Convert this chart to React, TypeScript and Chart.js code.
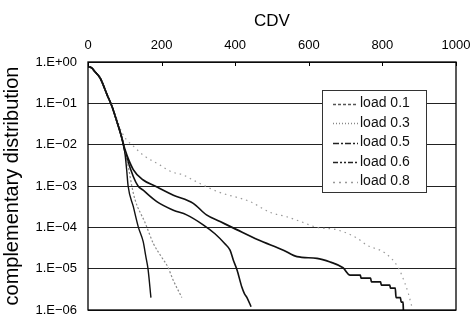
import React, { useEffect, useRef } from 'react';
import { Chart, registerables } from 'chart.js';

Chart.register(...registerables);

const FONT = '"Liberation Sans", Arial, Helvetica, sans-serif';

const seriesLabels = ['load 0.1', 'load 0.3', 'load 0.5', 'load 0.6', 'load 0.8'];

const load01X = [0, 10, 19, 33, 52, 65, 79, 92, 100, 105, 109, 123, 137, 150, 157, 163, 171];
const load01Y = [0.78, 0.72, 0.58, 0.41, 0.16, 0.085, 0.035, 0.0145, 0.0066, 0.0025, 0.001, 0.00032, 0.0001, 0.000045, 0.00002, 0.00001, 0.000002];

const load03X = [0, 10, 19, 33, 52, 65, 79, 92, 100, 111, 119, 128, 155, 178, 200, 217, 231, 255];
const load03Y = [0.78, 0.72, 0.58, 0.41, 0.16, 0.085, 0.035, 0.0145, 0.0068, 0.0025, 0.001, 0.00046, 0.00013, 0.00004, 0.000019, 0.000011, 0.0000054, 0.000002];

const load05X = [0, 10, 19, 33, 52, 65, 79, 92, 100, 123, 136, 150, 187, 232, 268, 313, 345, 372, 386, 395, 405, 418, 425, 432, 443];
const load05Y = [0.78, 0.72, 0.58, 0.41, 0.16, 0.085, 0.035, 0.0145, 0.007, 0.0017, 0.001, 0.00079, 0.00042, 0.00026, 0.0002, 0.000115, 0.00007, 0.00004, 0.000028, 0.000016, 0.0000093, 0.0000036, 0.0000025, 0.000002, 0.0000012];

const load06X = [0, 10, 19, 33, 52, 65, 79, 92, 100, 123, 150, 182, 232, 286, 322, 359, 404, 462, 531, 568, 622, 658, 693, 712, 740, 742, 768, 770, 795, 797, 820, 822, 835, 837, 849, 851, 856, 857];
const load06Y = [0.78, 0.72, 0.58, 0.41, 0.16, 0.085, 0.035, 0.0145, 0.0078, 0.0025, 0.0014, 0.001, 0.0006, 0.00038, 0.0002, 0.000138, 0.000088, 0.00005, 0.000028, 0.0000195, 0.0000178, 0.0000145, 0.0000105, 0.000007, 0.000007, 0.0000059, 0.0000059, 0.0000048, 0.0000048, 0.000004, 0.000004, 0.0000034, 0.0000034, 0.000002, 0.000002, 0.00000155, 0.00000155, 0.000001];

const load08X = [0, 10, 19, 33, 52, 65, 79, 92, 105, 119, 150, 196, 227, 255, 295, 354, 440, 495, 540, 576, 622, 677, 731, 758, 807, 842, 861, 870, 880];
const load08Y = [0.78, 0.72, 0.58, 0.41, 0.16, 0.085, 0.04, 0.02, 0.013, 0.01, 0.0056, 0.0032, 0.0022, 0.0019, 0.00126, 0.00072, 0.00042, 0.00023, 0.00018, 0.00014, 0.0001, 0.000087, 0.000055, 0.000037, 0.000024, 0.000011, 0.0000045, 0.0000026, 0.0000012];

const xTickValues = [0, 200, 400, 600, 800, 1000];
const yTickValues = [1, 1e-1, 1e-2, 1e-3, 1e-4, 1e-5, 1e-6];
const yTickLabels = ['1.E+00', '1.E\u221201', '1.E\u221202', '1.E\u221203', '1.E\u221204', '1.E\u221205', '1.E\u221206'];

const seriesX = [load01X, load03X, load05X, load06X, load08X];
const seriesY = [load01Y, load03Y, load05Y, load06Y, load08Y];

const lineColors = ['#111111', '#8a8a8a', '#111111', '#111111', '#9a9a9a'];
const lineWidths = [1.4, 1.2, 1.6, 1.7, 1.2];
const lineDashes: number[][] = [[], [2, 2], [], [], [1.5, 4]];
const legendColors = ['#555555', '#888888', '#222222', '#222222', '#999999'];
const legendDashes: number[][] = [[3, 2], [1, 2], [6, 2, 2, 2], [5, 2, 2, 2, 2, 2], [2, 4]];

const framePlugin = {
  id: 'frameAndLegend',
  afterDraw(chart: any) {
    const { ctx, chartArea: a, scales } = chart;
    ctx.save();
    ctx.setLineDash([]);
    ctx.strokeStyle = '#000';
    ctx.lineWidth = 1.3;
    ctx.strokeRect(a.left, a.top, a.right - a.left, a.bottom - a.top);
    const xs = scales.x;
    ctx.lineWidth = 1;
    xTickValues.forEach((v) => {
      const px = Math.round(xs.getPixelForValue(v)) + 0.5;
      ctx.beginPath();
      ctx.moveTo(px, a.top);
      ctx.lineTo(px, a.top + 4);
      ctx.stroke();
    });
    // legend box
    const L = 322, T = 90, R = 426, B = 192;
    ctx.fillStyle = '#ffffff';
    ctx.fillRect(L, T, R - L, B - T);
    ctx.strokeStyle = '#333';
    ctx.lineWidth = 1;
    ctx.strokeRect(L + 0.5, T + 0.5, R - L, B - T);
    ctx.font = '14px ' + FONT;
    ctx.textBaseline = 'middle';
    ctx.textAlign = 'left';
    seriesLabels.forEach((lab, i) => {
      const y = 103.5 + i * 19.5;
      ctx.beginPath();
      ctx.setLineDash(legendDashes[i]);
      ctx.strokeStyle = legendColors[i];
      ctx.lineWidth = 1.3;
      ctx.moveTo(333, Math.round(y) + 0.5);
      ctx.lineTo(358, Math.round(y) + 0.5);
      ctx.stroke();
      ctx.setLineDash([]);
      ctx.fillStyle = '#111';
      ctx.fillText(lab, 360, y);
    });
    ctx.restore();
  },
};

export default function App() {
  const canvasRef = useRef<HTMLCanvasElement | null>(null);

  useEffect(() => {
    document.body.style.margin = '0';
    const canvas = canvasRef.current;
    if (!canvas) return;
    Chart.defaults.font.family = FONT;
    Chart.defaults.color = '#000';

    const datasets = seriesLabels.map((label, i) => ({
      label,
      data: seriesX[i].map((x, j) => ({ x, y: seriesY[i][j] })),
      borderColor: lineColors[i],
      borderWidth: lineWidths[i],
      borderDash: lineDashes[i],
      pointRadius: 0,
      fill: false,
      cubicInterpolationMode: 'monotone' as const,
    }));

    const chart = new Chart(canvas, {
      type: 'line',
      data: { datasets },
      options: {
        animation: false,
        responsive: false,
        devicePixelRatio: 1,
        layout: { padding: { left: 0, right: 16, top: 0, bottom: 5 } },
        plugins: {
          legend: { display: false },
          tooltip: { enabled: false },
        },
        scales: {
          x: {
            type: 'linear',
            position: 'top',
            min: 0,
            max: 1000,
            afterBuildTicks: (scale: any) => {
              scale.ticks = xTickValues.map((v) => ({ value: v }));
            },
            afterFit: (scale: any) => {
              scale.height = 62;
              scale.paddingLeft = 0;
              scale.paddingRight = 0;
            },
            grid: { display: false, drawTicks: false },
            border: { display: false },
            ticks: {
              font: { size: 13 },
              color: '#000',
              padding: 9,
              maxRotation: 0,
              callback: (v: any) => String(v),
            },
            title: {
              display: true,
              text: 'CDV',
              font: { size: 17 },
              color: '#000',
              padding: { top: 11, bottom: 0 },
            },
          },
          y: {
            type: 'logarithmic',
            min: 1e-6,
            max: 1,
            afterBuildTicks: (scale: any) => {
              scale.ticks = yTickValues.map((v) => ({ value: v }));
            },
            afterFit: (scale: any) => {
              scale.width = 88;
              scale.paddingTop = 0;
              scale.paddingBottom = 0;
            },
            grid: { display: true, drawTicks: false, color: '#222', lineWidth: 1 },
            border: { display: false },
            ticks: {
              font: { size: 13 },
              color: '#000',
              padding: 11,
              autoSkip: false,
              callback: (v: any) => {
                const idx = yTickValues.findIndex((t) => Math.abs(Math.log10(t) - Math.log10(v)) < 1e-6);
                return idx >= 0 ? yTickLabels[idx] : '';
              },
            },
            title: {
              display: true,
              text: 'complementary distribution',
              font: { size: 20 },
              color: '#000',
              padding: { top: 0, bottom: 0 },
            },
          },
        },
      },
      plugins: [framePlugin],
    });

    return () => chart.destroy();
  }, []);

  return (
    <div style={{ width: 472, height: 315, background: '#fff' }}>
      <canvas ref={canvasRef} width={472} height={315} style={{ display: 'block' }} />
    </div>
  );
}
